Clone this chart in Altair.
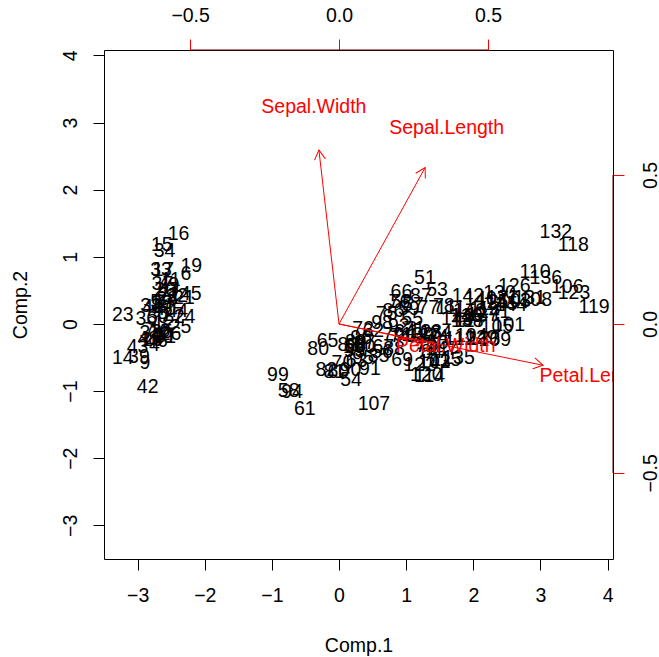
import numpy as np
import pandas as pd
import altair as alt

# Principal component scores (Comp.1, Comp.2) for observations 1..150
COMP1 = [-2.68,-2.71,-2.89,-2.75,-2.73,-2.28,-2.82,-2.63,-2.89,-2.67,
         -2.51,-2.61,-2.79,-3.22,-2.64,-2.39,-2.62,-2.65,-2.20,-2.59,
         -2.31,-2.54,-3.22,-2.30,-2.36,-2.51,-2.47,-2.56,-2.64,-2.63,
         -2.59,-2.41,-2.65,-2.60,-2.64,-2.87,-2.63,-2.80,-2.98,-2.59,
         -2.77,-2.85,-3.00,-2.41,-2.21,-2.71,-2.54,-2.84,-2.54,-2.70,
         1.28,0.93,1.46,0.18,1.09,0.64,1.10,-0.75,1.04,-0.01,
         -0.51,0.51,0.26,0.98,-0.17,0.93,0.66,0.24,0.94,0.05,
         1.12,0.36,1.30,0.92,0.71,0.90,1.33,1.56,0.81,-0.31,
         -0.07,-0.19,0.14,1.38,0.59,0.81,1.22,0.82,0.25,0.17,
         0.46,0.89,0.23,-0.70,0.36,0.33,0.38,0.64,-0.91,0.30,
         2.53,1.42,2.62,1.97,2.35,3.40,0.52,2.93,2.32,2.92,
         1.66,1.80,2.17,1.35,1.59,1.90,1.95,3.49,3.80,1.30,
         2.43,1.20,3.50,1.39,2.28,2.61,1.26,1.29,2.12,2.39,
         2.84,3.23,2.16,1.44,1.78,3.08,2.14,1.91,1.17,2.11,
         2.31,1.92,1.42,2.56,2.42,1.94,1.53,1.76,1.90,1.39]
COMP2 = [0.32,-0.18,-0.14,-0.32,0.33,0.74,-0.09,0.16,-0.58,-0.11,
         0.65,0.01,-0.24,-0.51,1.18,1.34,0.81,0.31,0.87,0.51,
         0.39,0.43,0.13,0.10,-0.04,-0.15,0.13,0.37,0.31,-0.20,
         -0.20,0.41,0.81,1.09,-0.12,0.07,0.60,0.27,-0.49,0.23,
         0.26,-0.94,-0.34,0.19,0.44,-0.25,0.50,-0.23,0.58,0.11,
         0.69,0.32,0.50,-0.83,0.07,-0.42,0.28,-1.00,0.23,-0.72,
         -1.27,-0.10,-0.55,-0.12,-0.25,0.47,-0.35,-0.33,-0.54,-0.58,
         -0.08,-0.07,-0.33,-0.18,0.15,0.33,0.24,0.27,-0.16,-0.37,
         -0.71,-0.68,-0.31,-0.42,-0.48,0.19,0.41,-0.37,-0.27,-0.68,
         -0.67,-0.03,-0.40,-1.01,-0.50,-0.21,-0.29,0.02,-0.76,-0.35,
         -0.01,-0.57,0.34,-0.18,-0.04,0.55,-1.19,0.36,-0.24,0.78,
         0.24,-0.22,0.22,-0.78,-0.54,0.12,0.04,1.18,0.26,-0.76,
         0.38,-0.61,0.46,-0.20,0.33,0.56,-0.18,-0.12,-0.21,0.46,
         0.38,1.37,-0.22,-0.14,-0.50,0.69,0.14,0.05,-0.16,0.37,
         0.18,0.41,-0.57,0.28,0.30,0.19,-0.38,0.08,0.12,-0.28]
OBS_LABELS = [str(i) for i in range(1, 151)]

# Variable loadings
VARS = ["Sepal.Length", "Sepal.Width", "Petal.Length", "Petal.Width"]
LOAD1 = [0.3614, -0.0845, 0.8567, 0.3583]
LOAD2 = [0.6566, 0.7302, -0.1734, -0.0755]

# Axis tick values
SCORE_TICKS = [-3, -2, -1, 0, 1, 2, 3, 4]
LOAD_TICKS = [-0.5, 0.0, 0.5]

c1 = np.array(COMP1)
c2 = np.array(COMP2)
l1 = np.array(LOAD1)
l2 = np.array(LOAD2)

# biplot limits (same rule as R's biplot.default)
lim = (min(-abs(c1.min()), -abs(c2.min())), max(abs(c1.max()), abs(c2.max())))
span = lim[1] - lim[0]
dom = [lim[0] - 0.04 * span, lim[1] + 0.04 * span]
ratio = max(abs(l1.min()) / abs(lim[0]), l1.max() / lim[1],
            abs(l2.min()) / abs(lim[0]), l2.max() / lim[1])
dom_b = [dom[0] * ratio, dom[1] * ratio]

scores = pd.DataFrame({"x": c1, "y": c2, "lab": OBS_LABELS})
load = pd.DataFrame({"name": VARS, "lx": l1, "ly": l2})
load["x0"] = 0.0
load["y0"] = 0.0
load["tx"] = load["lx"] * 0.8
load["ty"] = load["ly"] * 0.8
load["ang"] = (np.degrees(np.arctan2(load["lx"], load["ly"])) + 360) % 360

# red axis lines of the secondary (top / right) axes, spanning the tick range
axline = pd.DataFrame({"lo": [min(LOAD_TICKS)], "hi": [max(LOAD_TICKS)], "edge": [dom_b[1]]})

FONT = "Liberation Sans"
FS = 19.5
TS = 11

ax_bottom = alt.Axis(orient="bottom", values=SCORE_TICKS, format="d", title="Comp.1",
                     tickSize=TS, labelPadding=25.5, labelBaseline="middle", titleY=86, titleBaseline="middle")
ax_left = alt.Axis(orient="left", values=SCORE_TICKS, format="d", title="Comp.2",
                   tickSize=TS, labelPadding=23, labelAngle=270, labelAlign="center", labelBaseline="middle",
                   titleX=-84, titleBaseline="middle", titleAngle=270)
ax_top = alt.Axis(orient="top", values=LOAD_TICKS, format=".1f", title=None, tickColor="red",
                  tickSize=TS, labelPadding=24, labelBaseline="middle")
ax_right = alt.Axis(orient="right", values=LOAD_TICKS, format=".1f", title=None, tickColor="red",
                    tickSize=TS, labelPadding=26, labelAngle=270, labelAlign="center", labelBaseline="middle")

xs = alt.Scale(domain=dom, nice=False, zero=False)
xb = alt.Scale(domain=dom_b, nice=False, zero=False)

pts = alt.Chart(scores).mark_text(font=FONT, fontSize=FS, color="black", clip=True, align="center",
                                  baseline="middle").encode(
    x=alt.X("x:Q", scale=xs, axis=ax_bottom),
    y=alt.Y("y:Q", scale=xs, axis=ax_left),
    text="lab:N",
)

bl = alt.Chart(load)
shaft = bl.mark_rule(color="red", strokeWidth=1).encode(
    x=alt.X("x0:Q", scale=xb, axis=ax_top), y=alt.Y("y0:Q", scale=xb, axis=ax_right),
    x2="tx:Q", y2="ty:Q")
head = bl.mark_point(shape="M -0.5 0.866 L 0 0 L 0.5 0.866", filled=False, color="red", strokeWidth=1,
                     size=484, opacity=1).encode(
    x=alt.X("tx:Q", scale=xb, axis=ax_top), y=alt.Y("ty:Q", scale=xb, axis=ax_right),
    angle=alt.Angle("ang:Q", scale=None))
vlab = bl.mark_text(font=FONT, fontSize=FS, color="red", clip=True, align="center", baseline="middle").encode(
    x=alt.X("lx:Q", scale=xb, axis=ax_top), y=alt.Y("ly:Q", scale=xb, axis=ax_right), text="name:N")

al = alt.Chart(axline)
top_line = al.mark_rule(color="#5c0000", strokeWidth=1).encode(
    x=alt.X("lo:Q", scale=xb, axis=ax_top), x2="hi:Q",
    y=alt.Y("edge:Q", scale=xb, axis=ax_right))
right_line = al.mark_rule(color="#5c0000", strokeWidth=1).encode(
    y=alt.Y("lo:Q", scale=xb, axis=ax_right), y2="hi:Q",
    x=alt.X("edge:Q", scale=xb, axis=ax_top))

layer_b = alt.layer(shaft, head, vlab, top_line, right_line)

chart = alt.layer(pts, layer_b).resolve_scale(x="independent", y="independent").properties(
    width=509, height=509,
    padding={"left": 104, "top": 50, "right": 46, "bottom": 98},
    autosize=alt.AutoSizeParams(type="none"),
    background="white",
).configure_view(stroke="black", strokeWidth=1).configure_axis(
    labelFont=FONT, labelFontSize=FS, labelColor="black", titleFont=FONT, titleFontSize=FS,
    titleFontWeight="normal", titleColor="black", tickColor="black", domain=False, grid=False,
)

chart.save("out.html", embed_options={"renderer": "svg", "actions": False})
